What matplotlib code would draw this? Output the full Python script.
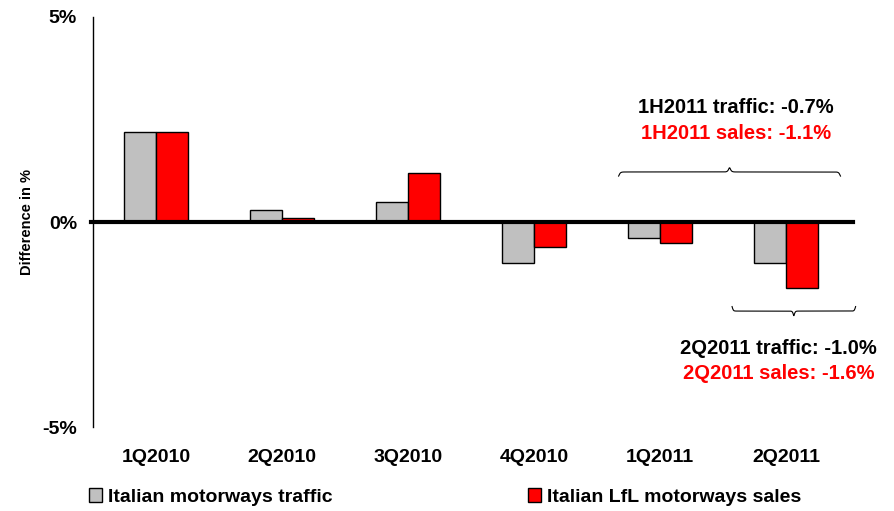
import numpy as np
import matplotlib
matplotlib.use("Agg")
import matplotlib.pyplot as plt
from matplotlib.patches import Patch

plt.rcParams['font.family'] = ['Liberation Sans', 'DejaVu Sans']

categories = ["1Q2010", "2Q2010", "3Q2010", "4Q2010", "1Q2011", "2Q2011"]
traffic = [2.2, 0.3, 0.5, -1.0, -0.4, -1.0]
sales = [2.2, 0.1, 1.2, -0.6, -0.5, -1.6]
series_names = ["Italian motorways traffic", "Italian LfL motorways sales"]
yticks = [-5, 0, 5]
ytick_labels = ["-5%", "0%", "5%"]
note_h1 = ["1H2011 traffic: -0.7%", "1H2011 sales: -1.1%"]
note_q2 = ["2Q2011 traffic: -1.0%", "2Q2011 sales: -1.6%"]

fig = plt.figure(figsize=(8.94, 5.11), dpi=100)
ax = fig.add_axes([0.104, 0.164, 0.846, 0.803])

x = np.arange(len(categories))
w = 0.254
ax.bar(x - w / 2, traffic, w, color="#c0c0c0", edgecolor="black", linewidth=1.0, zorder=2)
ax.bar(x + w / 2, sales, w, color="#ff0000", edgecolor="black", linewidth=1.0, zorder=2)

ax.set_xlim(-0.5, 5.5)
ax.set_ylim(-5, 5)
ax.axhline(0, xmin=-0.002, xmax=1.005, color="black", linewidth=3, zorder=3, clip_on=False)

for s in ["top", "right", "bottom"]:
    ax.spines[s].set_visible(False)
ax.spines["left"].set_linewidth(1.0)

ax.set_yticks(yticks)
ax.set_yticklabels(ytick_labels, fontsize=14, fontweight="bold")
ax.tick_params(axis="y", length=0, pad=11.5)
ax.set_xticks(x)
ax.set_xticklabels(categories, fontsize=14, fontweight="bold")
ax.tick_params(axis="x", length=0, pad=16)

ax.set_ylabel("Difference in %", fontsize=10.5, fontweight="bold")
ax.yaxis.set_label_coords(-0.078, 0.5)


def brace(ax, x0, x1, y, depth, beta=300):
    n = 400
    t = np.linspace(0, 1, n)
    half = t[: n // 2]
    yh = 1 / (1 + np.exp(-beta * (half - half[0]))) + 1 / (1 + np.exp(-beta * (half - half[-1])))
    yf = np.concatenate([yh, yh[::-1]])
    yf = yf - yf.min()
    yf = yf / yf.max()
    xs = x0 + (x1 - x0) * t
    ys = y + depth * (yf - 0.5)
    ax.plot(xs, ys, color="black", linewidth=0.8, clip_on=False, zorder=4)


brace(ax, 3.67, 5.43, 1.22, 0.2, beta=250)
brace(ax, 4.57, 5.55, -2.17, -0.22, beta=200)

ax.text(4.6, 2.78, note_h1[0], ha="center", va="center", fontsize=14.5, fontweight="bold", color="black")
ax.text(4.6, 2.15, note_h1[1], ha="center", va="center", fontsize=14.5, fontweight="bold", color="#ff0000")
ax.text(4.94, -3.07, note_q2[0], ha="center", va="center", fontsize=14.5, fontweight="bold", color="black")
ax.text(4.94, -3.68, note_q2[1], ha="center", va="center", fontsize=14.5, fontweight="bold", color="#ff0000")

# legend
h1 = Patch(facecolor="#c0c0c0", edgecolor="black", label=series_names[0])
h2 = Patch(facecolor="#ff0000", edgecolor="black", label=series_names[1])
fig.legend(handles=[h1], loc="center left", bbox_to_anchor=(0.0795, 0.027), frameon=False,
           prop={"size": 14, "weight": "bold"}, handlelength=0.7, handleheight=0.7, handletextpad=0.3)
fig.legend(handles=[h2], loc="center left", bbox_to_anchor=(0.5706, 0.027), frameon=False,
           prop={"size": 14, "weight": "bold"}, handlelength=0.7, handleheight=0.7, handletextpad=0.3)

fig.savefig("out.png", dpi=100)
